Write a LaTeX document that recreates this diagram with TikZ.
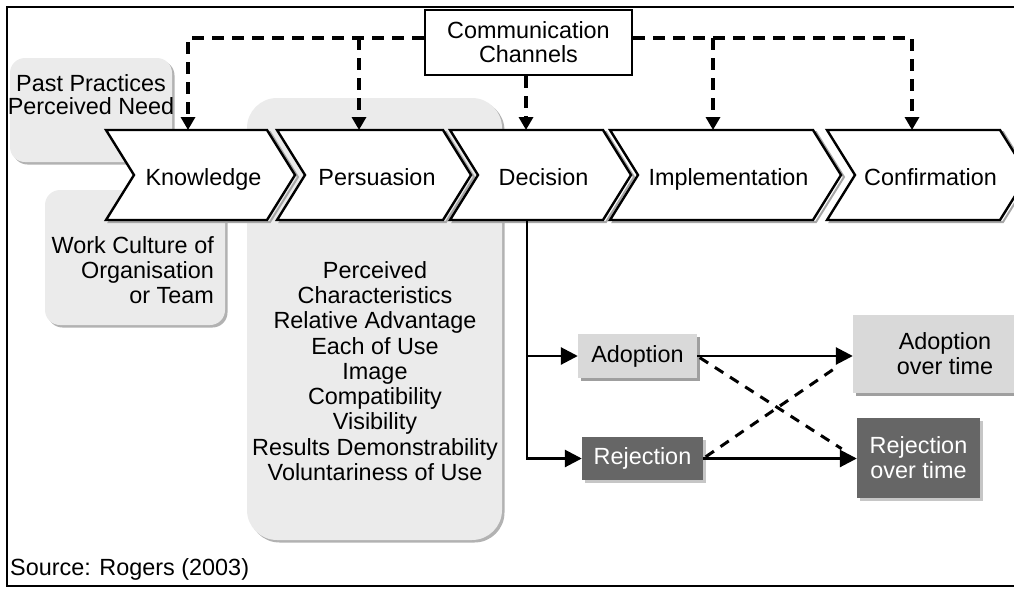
\documentclass[tikz,border=0pt]{standalone}
\usepackage{fontspec}
\setmainfont{Liberation Sans}
\usetikzlibrary{arrows.meta,shadows}
\definecolor{bggray}{HTML}{EBEBEB}
\definecolor{lightbox}{HTML}{D9D9D9}
\definecolor{darkbox}{HTML}{666666}
\tikzset{
  txt/.style={inner sep=0pt, font=\fontsize{23.4}{25}\selectfont},
  bgbox/.style={fill=bggray, drop shadow={shadow xshift=2.5pt, shadow yshift=-2.5pt, fill=gray!60, opacity=1}},
  chevbox/.style={draw=black, fill=white, line width=2.4pt, line join=miter},
  chevshadow/.style={draw=gray!70, line width=2pt},
  dsh/.style={line width=3.4pt, dash pattern=on 12pt off 8pt, -{Triangle[width=14pt,length=13pt]}},
  dshx/.style={line width=3pt, dash pattern=on 10pt off 8pt},
  sol/.style={line width=2.8pt, -{Triangle[width=17pt,length=17pt]}},
  lbox/.style={txt, fill=lightbox, drop shadow={shadow xshift=3pt, shadow yshift=-3pt, fill=gray!75, opacity=1}},
  dbox/.style={txt, fill=darkbox, text=white, drop shadow={shadow xshift=3pt, shadow yshift=-3pt, fill=gray!45, opacity=1}},
}
\newcommand\chevron[4]{%
  \draw[chevshadow] (#1+3,132) -- (#2+3,132) -- (#2+31,177) -- (#2+3,222) -- (#1+3,222) -- (#1+31,177) -- cycle;
  \draw[chevbox] (#1,130) -- (#2,130) -- (#2+28,175) -- (#2,220) -- (#1,220) -- (#1+28,175) -- cycle;
  \node[txt, anchor=base] (#3) at ({(#1+#2)/2+17},185) {#4};}
\begin{document}
\begin{tikzpicture}[x=1pt,y=-1pt]
\useasboundingbox (0,0) rectangle (1014,589);
% background grey boxes
\path[bgbox, rounded corners=15pt] (10,58) rectangle (172,162);
\path[bgbox, rounded corners=15pt] (45,190) rectangle (225,325);
\path[bgbox, rounded corners=30pt] (247,98) rectangle (502,540);
\node[txt, align=center, font=\fontsize{23.4}{23}\selectfont] (past) at (91,94.5) {Past Practices\\Perceived Need};
\node[txt, align=right, anchor=east] (work) at (214,270) {Work Culture of\\Organisation\\or Team};
\node[txt, align=center, font=\fontsize{23.4}{25.25}\selectfont] (chars) at (375,371) {Perceived\\Characteristics\\Relative Advantage\\Each of Use\\Image\\Compatibility\\Visibility\\Results Demonstrability\\Voluntariness of Use};
% chevrons
\chevron{106}{267}{know}{Knowledge}
\chevron{277}{443}{pers}{Persuasion}
\chevron{450}{603}{deci}{Decision}
\chevron{610}{813}{impl}{Implementation}
\chevron{827}{1000}{conf}{Confirmation}
% communication channels
\node[txt, draw, line width=2.6pt, fill=white, minimum width=207pt, minimum height=65pt, align=center, font=\fontsize{23.4}{24}\selectfont] (cc) at (528.5,42.5) {Communication\\Channels};
\coordinate (kIn) at (188,130);
\coordinate (pIn) at (359,130);
\coordinate (dIn) at (526,130);
\coordinate (iIn) at (713,130);
\coordinate (cIn) at (912,130);
\draw[dsh] (cc.west |- 0,38) -| (kIn);
\draw[dsh] (pIn |- 0,38) -- (pIn);
\draw[dsh] (cc.south -| dIn) -- (dIn);
\draw[dsh] (cc.east |- 0,38) -| (cIn);
\draw[dsh] (iIn |- 0,38) -- (iIn);
% outcome boxes
\node[lbox, minimum width=119pt, minimum height=44pt] (adop) at (637.5,356) {Adoption};
\node[dbox, minimum width=121pt, minimum height=43pt] (rej) at (642.5,458.5) {Rejection};
\node[lbox, minimum width=184pt, minimum height=78pt, align=center] (aot) at (945,354) {Adoption\\over time};
\node[dbox, minimum width=123pt, minimum height=80pt, align=center] (rot) at (918.5,458) {Rejection\\over time};
\coordinate (dOut) at (527,220);
\draw[sol] (dOut) |- (adop.west);
\draw[sol] (dOut) |- (rej.west);
\draw[sol] (adop.east) -- (adop.east -| aot.west);
\draw[sol] (rej.east) -- (rej.east -| rot.west);
\draw[dshx, shorten >=18pt, shorten <=3pt] (adop.east) -- (rej.east -| rot.west);
\draw[dshx, shorten >=18pt, shorten <=3pt] (rej.east) -- (adop.east -| aot.west);
% frame and source
\draw[line width=2.6pt] (1020,7) -- (7,7) -- (7,586) -- (1020,586);
\node[txt, anchor=base west] (src) at (10,575) {Source: Rogers (2003)};
\end{tikzpicture}
\end{document}
